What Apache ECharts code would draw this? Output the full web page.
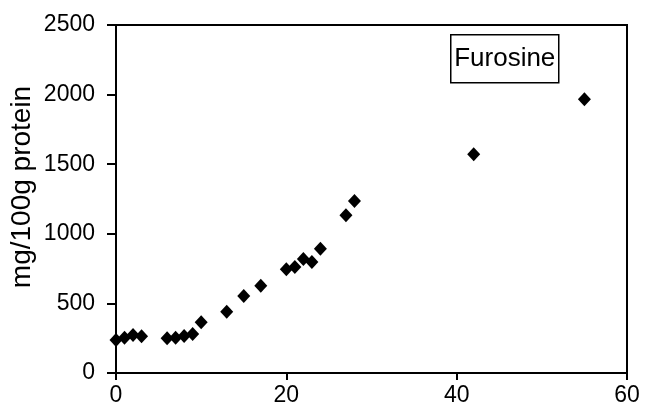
<!DOCTYPE html>
<html>
<head>
<meta charset="utf-8">
<script src="https://cdn.jsdelivr.net/npm/echarts@6/dist/echarts.min.js"></script>
<style>html,body{margin:0;padding:0;background:#fff}#c{width:654px;height:412px}</style>
</head>
<body>
<div id="c"></div>
<script>
var days = [0, 1, 2, 3, 6, 7, 8, 9, 10, 13, 15, 17, 20, 21, 22, 23, 24, 27, 28, 42, 55];
var furosine = [237, 254, 273, 264, 249, 254, 266, 280, 364, 440, 553, 627, 745, 761, 819, 797, 893, 1133, 1236, 1571, 1966];
var xTicks = [0, 20, 40, 60];
var yTicks = [0, 500, 1000, 1500, 2000, 2500];
var seriesLabel = 'Furosine';
var yTitle = 'mg/100g protein';

var font = 'Liberation Sans, Arial, sans-serif';
var chart = echarts.init(document.getElementById('c'), null, {renderer: 'canvas'});
chart.setOption({
  animation: false,
  backgroundColor: '#fff',
  grid: {left: 116, right: 27, top: 25, bottom: 39, show: true, borderColor: '#000', borderWidth: 2,
         containLabel: false, outerBoundsMode: 'none'},
  xAxis: {
    type: 'value', min: xTicks[0], max: xTicks[xTicks.length - 1], interval: 20,
    axisLine: {show: true, onZero: false, lineStyle: {color: '#000', width: 2}},
    axisTick: {show: true, length: 7, lineStyle: {color: '#000', width: 2}},
    axisLabel: {color: '#000', fontSize: 23, fontFamily: font, margin: 11, formatter: function (v) { return String(v); }},
    splitLine: {show: false}
  },
  yAxis: {
    type: 'value', min: yTicks[0], max: yTicks[yTicks.length - 1], interval: 500,
    name: yTitle, nameLocation: 'middle', nameGap: 80, nameRotate: 90, nameMoveOverlap: false,
    nameTextStyle: {color: '#000', fontSize: 28, fontFamily: font, padding: [0, 0, 0, 24]},
    axisLine: {show: true, lineStyle: {color: '#000', width: 2}},
    axisTick: {show: true, length: 9, lineStyle: {color: '#000', width: 2}},
    axisLabel: {color: '#000', fontSize: 23, fontFamily: font, margin: 21, formatter: function (v) { return String(v); }},
    splitLine: {show: false}
  },
  graphic: [{
    type: 'group', left: 450, top: 34,
    children: [
      {type: 'rect', shape: {x: 0, y: 0, width: 108, height: 48}, style: {fill: '#fff', stroke: '#000', lineWidth: 1.5}},
      {type: 'text', x: 54, y: 24, style: {text: seriesLabel, fill: '#000', font: '26px ' + font, textAlign: 'center', textVerticalAlign: 'middle'}}
    ]
  }],
  series: [{
    type: 'scatter', name: seriesLabel,
    data: days.map(function (d, i) { return [d, furosine[i]]; }),
    symbol: 'diamond', symbolSize: [13, 14],
    itemStyle: {color: '#000', opacity: 1}
  }]
});
</script>
</body>
</html>
